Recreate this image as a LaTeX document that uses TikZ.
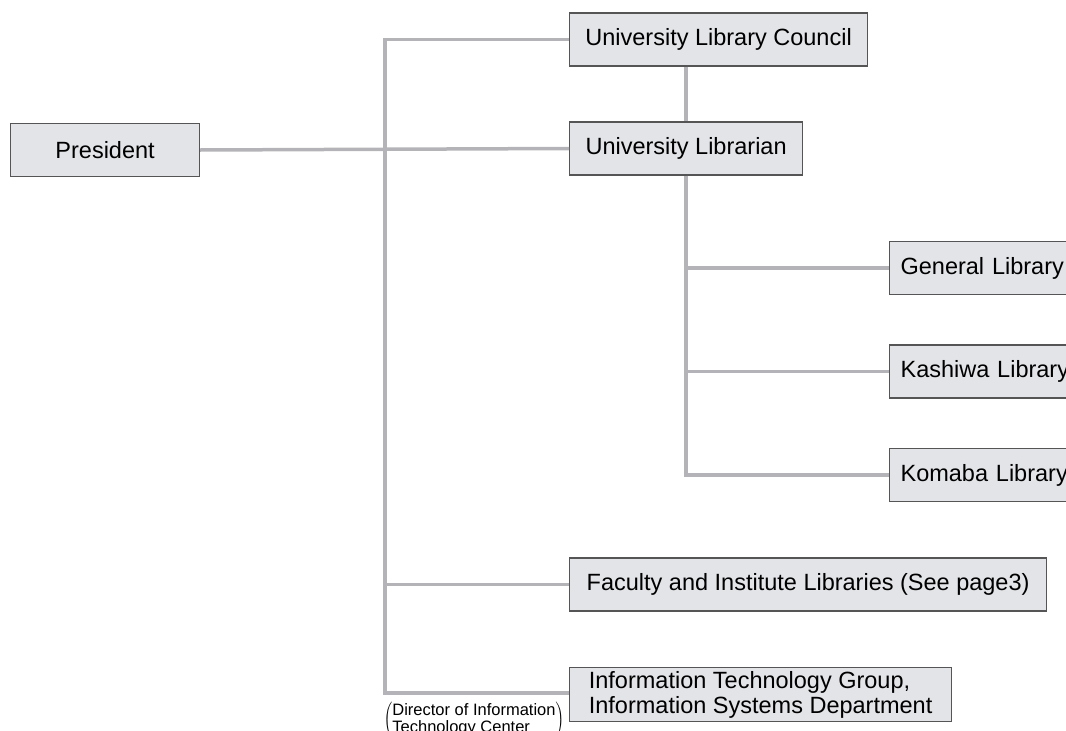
\documentclass[tikz,border=0pt]{standalone}
\usepackage{fontspec}
\setmainfont{Liberation Sans}
\usetikzlibrary{calc}
\definecolor{boxfill}{HTML}{E3E4E8}
\definecolor{boxline}{HTML}{555555}
\definecolor{linkgray}{HTML}{B4B4B8}
\newcommand{\boxfont}{\fontsize{23.5}{25}\selectfont}
\tikzset{
  orgbox/.style={draw=boxline, line width=1.2pt, fill=boxfill, anchor=west,
    minimum height=53pt, inner xsep=14pt, inner ysep=0pt, font=\boxfont},
  libbox/.style={orgbox, text width=175pt, align=left, inner xsep=11pt},
  link/.style={draw=linkgray, line width=3.5pt}
}

\begin{document}
\begin{tikzpicture}[x=1pt,y=-1pt]
  \useasboundingbox (0,0) rectangle (1066,731);
  \clip (0,0) rectangle (1066,731);

  \node[orgbox, minimum width=189pt, inner xsep=0pt] (pres) at (10,150) {President};
  \node[orgbox, minimum width=298pt] (council) at (569,39.5) {University Library Council};
  \node[orgbox, minimum width=233pt] (librarian) at (569,148.5) {University Librarian};
  \node[libbox] (general) at (889,268) {General Library};
  \node[libbox] (kashiwa) at (889,371.5) {Kashiwa Library};
  \node[libbox] (komaba) at (889,475) {Komaba Library};
  \node[orgbox, minimum width=477pt] (faculty) at (569,584.5) {Faculty and Institute Libraries (See page3)};
  \node[orgbox, minimum width=382pt, minimum height=54pt, align=left] (itg) at (569,694.5)
    {Information Technology Group,\\Information Systems Department};
  \node[anchor=north, inner sep=0pt, font=\fontsize{16.5}{17}\selectfont] (director) at (474,702)
    {$\left(\begin{tabular}{@{}l@{}}Director of Information\\Technology Center\end{tabular}\right)$};

  % trunk from the president
  \coordinate (trunktop) at (385,39.5);
  \coordinate (spine) at (686,66);
  \draw[link] (council.west) -- (trunktop) |- ($(itg.west)+(0,-1.5)$);
  \draw[link] (pres.east) -- (librarian.west);
  \draw[link] (trunktop |- faculty.west) -- (faculty.west);

  % librarian and branch libraries
  \draw[link] (council.south -| spine) -- (librarian.north -| spine);
  \draw[link] (librarian.south -| spine) -- (spine |- komaba.west) -- (komaba.west);
  \foreach \lib in {general,kashiwa}
    \draw[link] (spine |- \lib.west) -- (\lib.west);

\end{tikzpicture}
\end{document}
